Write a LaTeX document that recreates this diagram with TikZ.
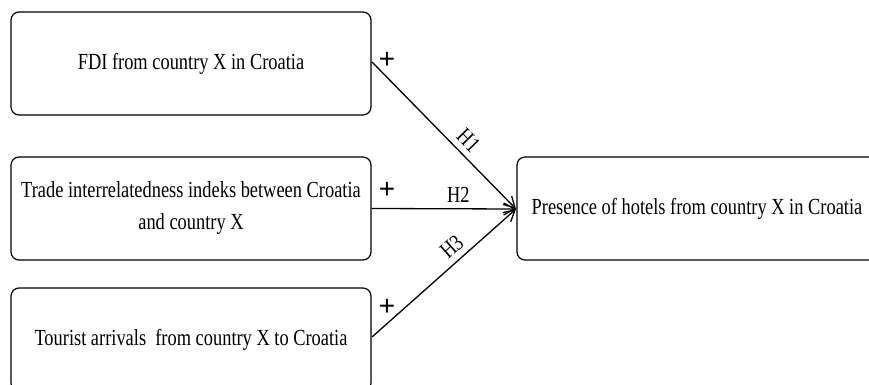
\documentclass[tikz,border=0pt]{standalone}
\usepackage{fontspec}
\setmainfont{Liberation Serif}[FakeStretch=0.8]
\newfontfamily\plusfont{Liberation Sans}
\usetikzlibrary{arrows.meta}
\begin{document}
\begin{tikzpicture}[x=1pt,y=-1pt,
  box/.style={draw,line width=1.2pt,rounded corners=8pt,minimum width=360pt,minimum height=103pt,inner sep=0pt,align=center,font=\fontsize{23}{32}\selectfont},
  conn/.style={line width=1.3pt,-{Straight Barb[length=11pt,width=12pt,line width=1.3pt]}},
  lbl/.style={font=\fontsize{23}{24}\selectfont},
  plus/.style={font=\plusfont\fontsize{28}{28}\selectfont,inner sep=0pt}]
\useasboundingbox (0,0) rectangle (869,385);
\clip (0,0) rectangle (869,385);
\node[box] (a) at (191,63.5) {FDI from country X in Croatia};
\node[box] (b) at (191,208.5) {Trade interrelatedness indeks between Croatia\\and country X};
\node[box] (c) at (191,339.5) {Tourist arrivals\ \ from country X to Croatia};
\node[box] (d) at (697,208.5) {Presence of hotels from country X in Croatia};
\coordinate (a1) at (372,62);
\coordinate (c1) at (372,337);
\coordinate (tip) at (516,209);
\draw[conn] (a1) -- node[lbl,sloped,above,pos=0.6,inner sep=6pt] {H1} (tip);
\draw[conn] (b.east) -- node[lbl,above,pos=0.6,inner sep=6pt] {H2} (tip);
\draw[conn] (c1) -- node[lbl,sloped,above,pos=0.62,inner sep=6pt] {H3} (tip);
\node[plus] (p1) at (387,60) {+};
\node[plus] (p2) at (387,190) {+};
\node[plus] (p3) at (387,307) {+};
\end{tikzpicture}
\end{document}
